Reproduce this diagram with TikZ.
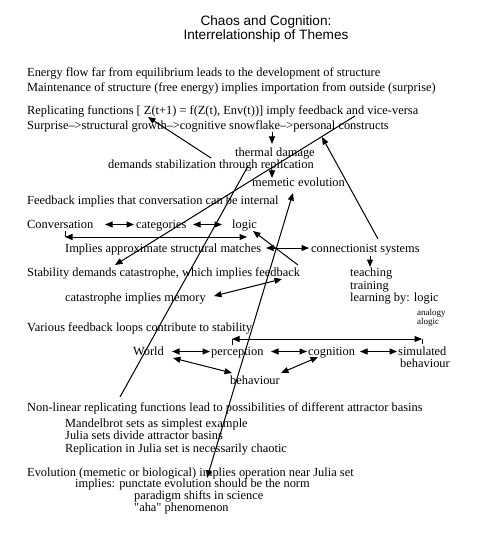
\documentclass[tikz,border=0pt]{standalone}
\usepackage{fontspec}
\setmainfont{Liberation Serif}[Ligatures=TeXOff]
\newfontfamily\titlefont{Liberation Sans}
\usetikzlibrary{arrows.meta}
\begin{document}
\begin{tikzpicture}[x=1pt,y=-1pt,
  txt/.style={anchor=base west,inner sep=0pt,font=\fontsize{12.4}{14}\selectfont},
  smalltxt/.style={anchor=base west,inner sep=0pt,font=\fontsize{9}{10}\selectfont},
  ttl/.style={anchor=base,inner sep=0pt,font=\titlefont\fontsize{13.6}{15}\selectfont},
  tip/.tip={Triangle[length=7.5pt,width=6pt]},
  conn/.style={line width=1pt,-tip},
  bi/.style={line width=1pt,tip-tip},
  plainline/.style={line width=1pt}]
\useasboundingbox (0,0) rectangle (479,537);
\fill[white] (0,0) rectangle (479,537);
% title
\node[ttl] (t1) at (266,25.5) {Chaos and Cognition:};
\node[ttl] (t2) at (266,39.5) {Interrelationship of Themes};
% text
\node[txt] (l1) at (27,77) {Energy flow far from equilibrium leads to the development of structure};
\node[txt] (l2) at (27,92) {Maintenance of structure (free energy) implies importation from outside (surprise)};
\node[txt] (l3) at (27,114.5) {Replicating functions [ Z(t+1) = f(Z(t), Env(t))] imply feedback and vice-versa};
\node[txt] (l4) at (27,130) {Surprise–>structural growth–>cognitive snowflake–>personal constructs};
\node[txt] (thermal) at (235,156.5) {thermal damage};
\node[txt] (demands) at (108,168.5) {demands stabilization through replication};
\node[txt] (memetic) at (252,186.5) {memetic evolution};
\node[txt] (feedbk) at (27,204.5) {Feedback implies that conversation can be internal};
\node[txt] (conv) at (27,228.5) {Conversation};
\node[txt] (categ) at (136,228.5) {categories};
\node[txt] (logic) at (232,228.5) {logic};
\node[txt] (implies) at (65,252.5) {Implies approximate structural matches};
\node[txt] (connect) at (311,252.5) {connectionist systems};
\node[txt] (stab) at (27,276.5) {Stability demands catastrophe, which implies feedback};
\node[txt] (teach) at (350,276.5) {teaching};
\node[txt] (train) at (350,289.5) {training};
\node[txt] (learn) at (350,301.5) {learning by: logic};
\node[smalltxt] (analogy) at (417,315) {analogy};
\node[smalltxt] (alogic) at (417,324) {alogic};
\node[txt] (catmem) at (65,301.5) {catastrophe implies memory};
\node[txt] (various) at (27,331.5) {Various feedback loops contribute to stability};
\node[txt] (world) at (133,355.5) {World};
\node[txt] (percep) at (211,355.5) {perception};
\node[txt] (cognit) at (308,355.5) {cognition};
\node[txt] (simul) at (398,355.5) {simulated};
\node[txt] (simbeh) at (400,367.5) {behaviour};
\node[txt] (behav) at (230,384.5) {behaviour};
\node[txt] (nonlin) at (27,411.5) {Non-linear replicating functions lead to possibilities of different attractor basins};
\node[txt] (mandel) at (65,427.5) {Mandelbrot sets as simplest example};
\node[txt] (julia) at (65,439.5) {Julia sets divide attractor basins};
\node[txt] (replic) at (65,452.5) {Replication in Julia set is necessarily chaotic};
\node[txt] (evol) at (27,476.5) {Evolution (memetic or biological) implies operation near Julia set};
\node[txt] (punct) at (75,487.5) {implies: punctate evolution should be the norm};
\node[txt] (paradigm) at (134,499.5) {paradigm shifts in science};
\node[txt] (aha) at (134,511.5) {"aha" phenomenon};
% connector end points
\coordinate (a1s) at (211,158); \coordinate (a1e) at (148,117);
\coordinate (a2s) at (272,132); \coordinate (a2e) at (272,144);
\coordinate (a3s) at (272,170); \coordinate (a3e) at (272,178);
\coordinate (a4s) at (355,116); \coordinate (a4e) at (115,265);
\coordinate (a5s) at (378,239); \coordinate (a5e) at (322,137);
\coordinate (a6s) at (248,166); \coordinate (a6e) at (120,397);
\coordinate (a7s) at (293,193); \coordinate (a7e) at (207,478);
\coordinate (a8s) at (282,279); \coordinate (a8e) at (214,296);
\coordinate (a9s) at (298,265); \coordinate (a9e) at (253,231);
\coordinate (a10s) at (266,248); \coordinate (a10e) at (309,248);
\coordinate (a11s) at (370,256); \coordinate (a11e) at (370,267);
\coordinate (a12s) at (105,224.5); \coordinate (a12e) at (134,224.5);
\coordinate (a13s) at (193,224.5); \coordinate (a13e) at (222,224.5);
\coordinate (b1t) at (65,231); \coordinate (b1s) at (65,237); \coordinate (b1e) at (247,237);
\coordinate (b2l) at (232,345); \coordinate (b2s) at (232,339); \coordinate (b2e) at (422,339); \coordinate (b2r) at (422,344);
\coordinate (a16s) at (172,351.5); \coordinate (a16e) at (210,351.5);
\coordinate (a17s) at (271,351.5); \coordinate (a17e) at (307,351.5);
\coordinate (a18s) at (360,351.5); \coordinate (a18e) at (397,351.5);
\coordinate (a19s) at (173,358); \coordinate (a19e) at (232,373);
\coordinate (a20s) at (318,357); \coordinate (a20e) at (281,373);
% connectors
\draw[conn] (a1s) -- (a1e);
\draw[conn] (a2s) -- (a2e);
\draw[conn] (a3s) -- (a3e);
\draw[conn] (a4s) -- (a4e);
\draw[conn] (a5s) -- (a5e);
\draw[plainline] (a6s) -- (a6e);
\draw[bi] (a7s) -- (a7e);
\draw[bi] (a8s) -- (a8e);
\draw[conn] (a9s) -- (a9e);
\draw[bi] (a10s) -- (a10e);
\draw[conn] (a11s) -- (a11e);
\draw[bi] (a12s) -- (a12e);
\draw[bi] (a13s) -- (a13e);
\draw[plainline] (b1t) -- (b1s);
\draw[bi] (b1s) -- (b1e);
\draw[plainline] (b2l) -- (b2s);
\draw[plainline] (b2e) -- (b2r);
\draw[bi] (b2s) -- (b2e);
\draw[bi] (a16s) -- (a16e);
\draw[bi] (a17s) -- (a17e);
\draw[bi] (a18s) -- (a18e);
\draw[bi] (a19s) -- (a19e);
\draw[bi] (a20s) -- (a20e);
\end{tikzpicture}
\end{document}
